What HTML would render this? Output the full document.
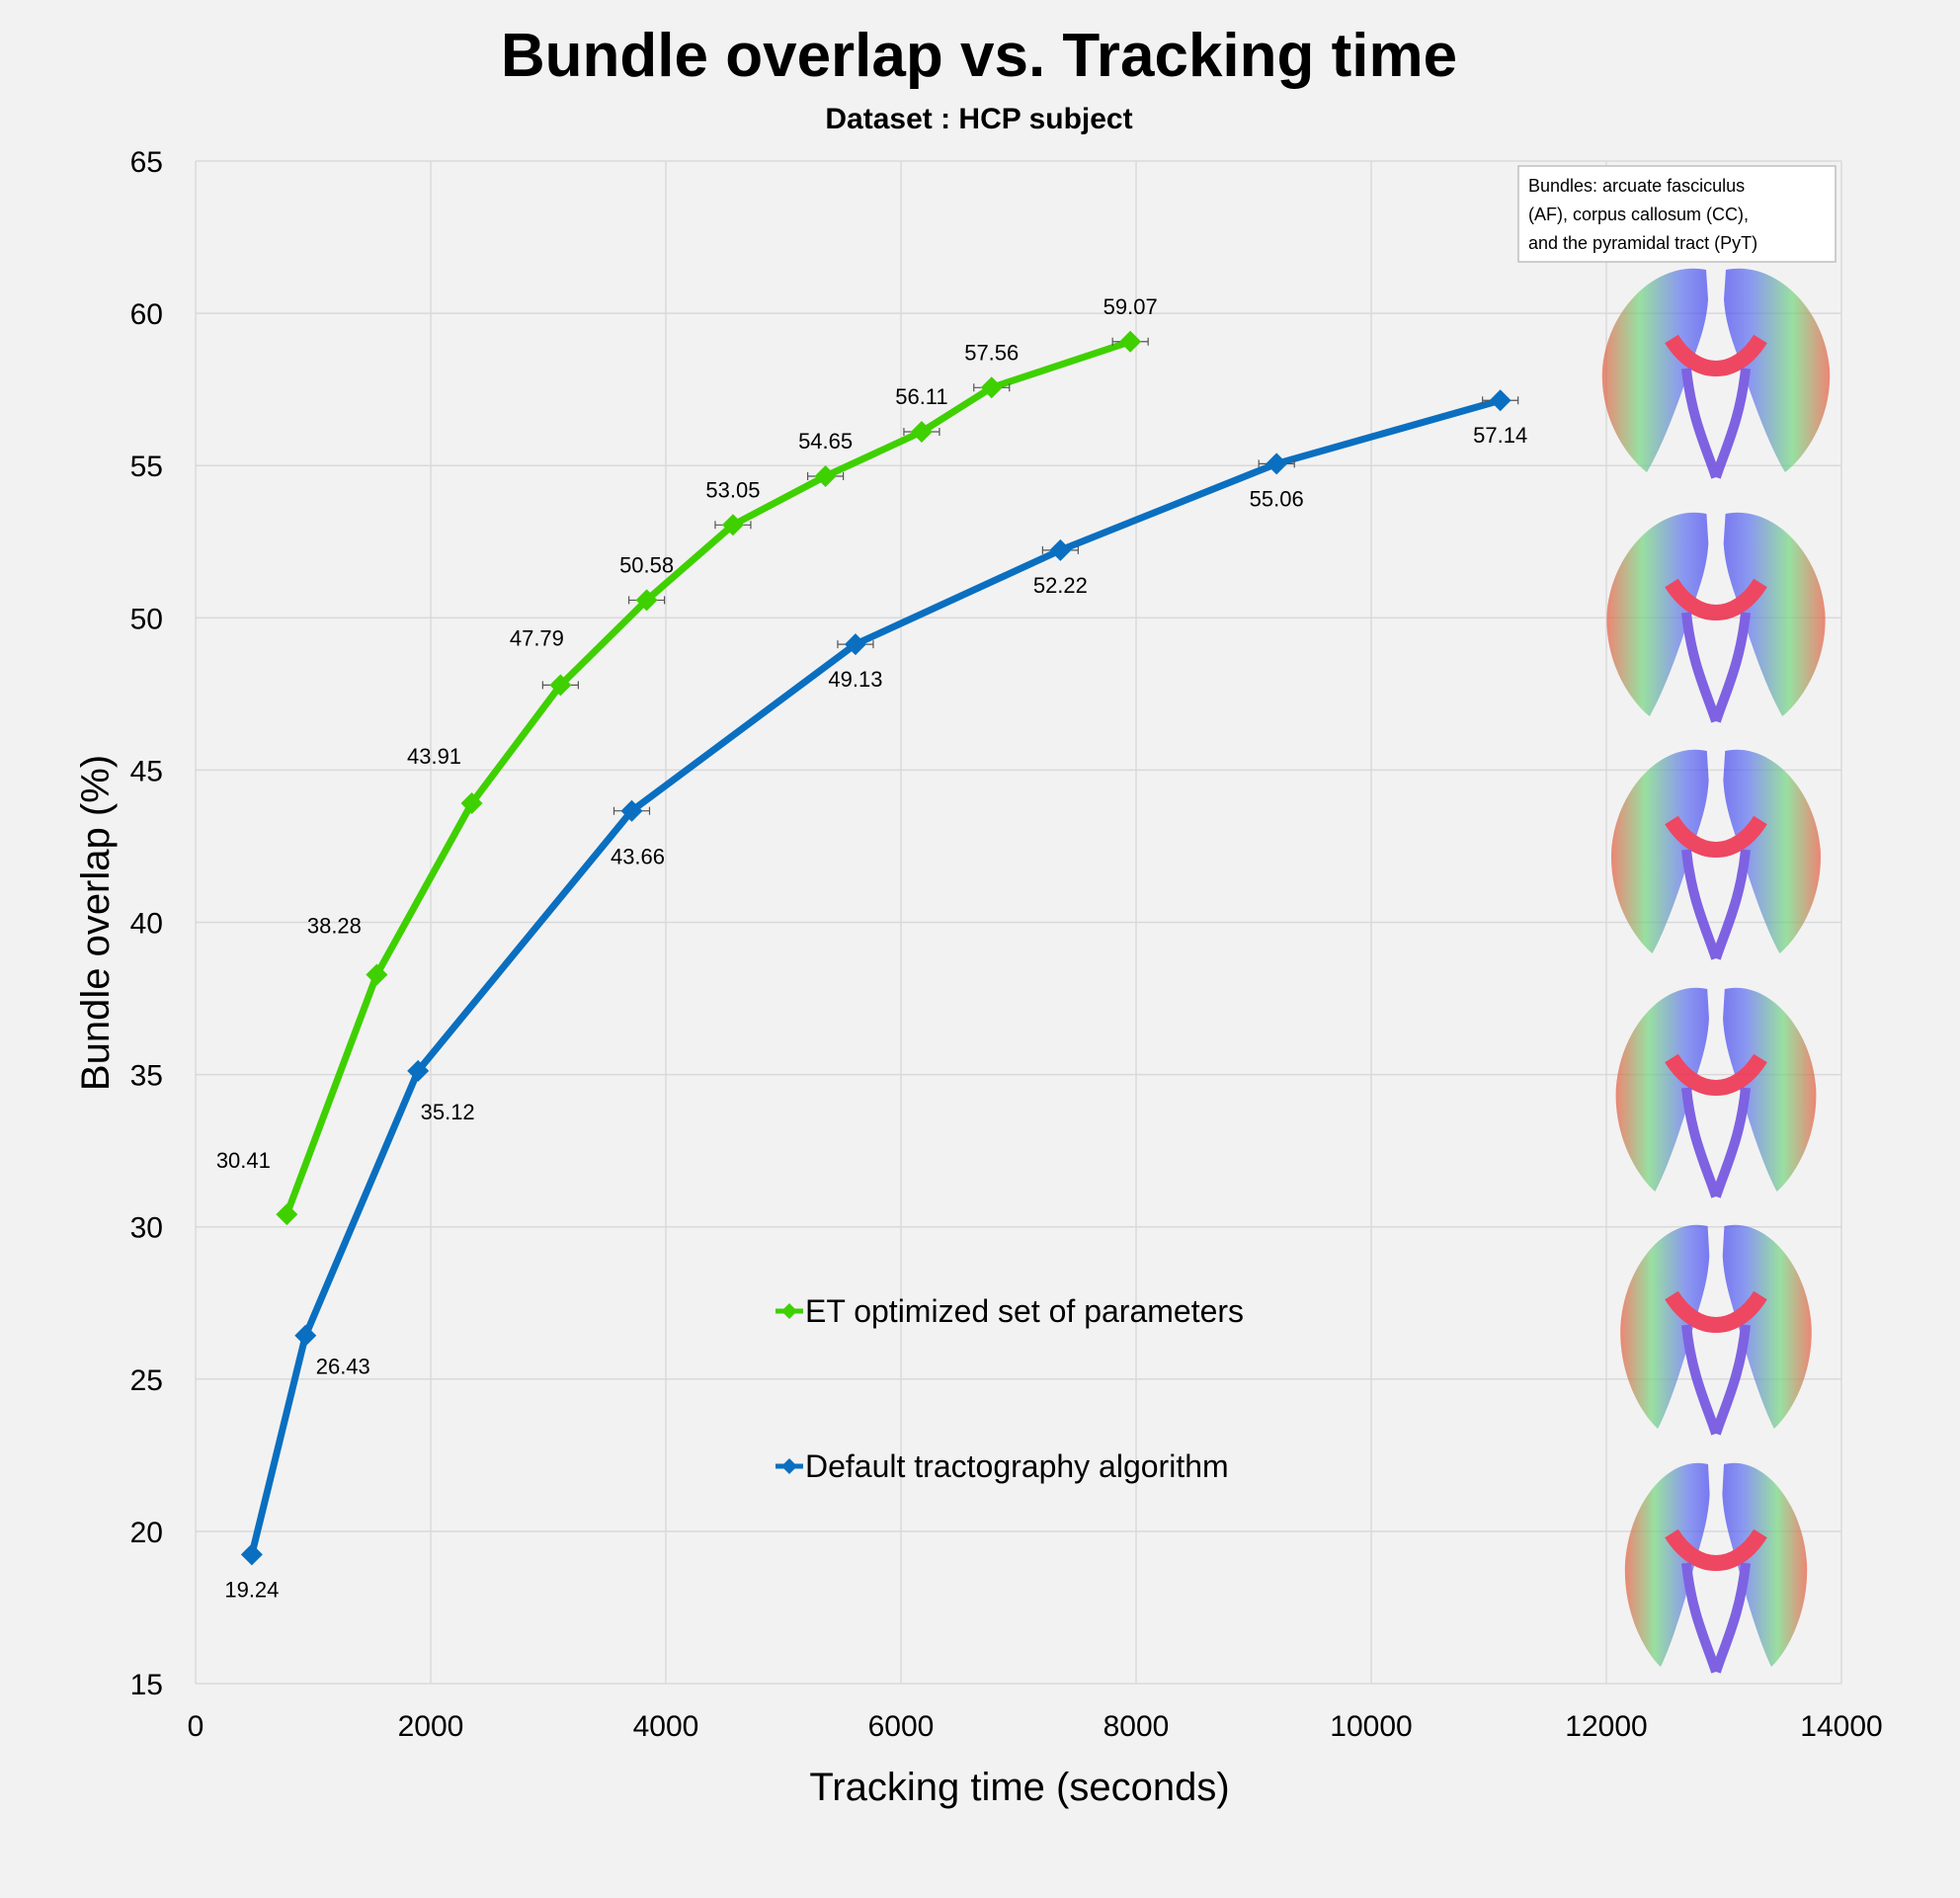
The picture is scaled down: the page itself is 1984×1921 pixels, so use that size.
<!DOCTYPE html>
<html><head><meta charset="utf-8"><style>
html,body{margin:0;padding:0;background:#f2f2f2;}
svg{display:block;font-family:"Liberation Sans",Calibri,sans-serif;}
</style></head><body>
<svg id="chart" width="1984" height="1921" viewBox="0 0 1984 1921">
<defs>
<linearGradient id="lobeL" x1="0" y1="0" x2="1" y2="0">
<stop offset="0" stop-color="#e8553a"/><stop offset="0.35" stop-color="#6fd67a"/><stop offset="0.75" stop-color="#5a6ef0"/><stop offset="1" stop-color="#4040ee"/></linearGradient>
<linearGradient id="lobeR" x1="1" y1="0" x2="0" y2="0">
<stop offset="0" stop-color="#e8553a"/><stop offset="0.35" stop-color="#6fd67a"/><stop offset="0.75" stop-color="#5a6ef0"/><stop offset="1" stop-color="#4040ee"/></linearGradient>
</defs>
<rect x="0" y="0" width="1984" height="1921" fill="#f2f2f2"/>
<text x="991" y="77" text-anchor="middle" font-size="62" font-weight="bold" fill="#000">Bundle overlap vs. Tracking time</text>
<text x="991" y="130" text-anchor="middle" font-size="30" font-weight="bold" fill="#000">Dataset : HCP subject</text>
<g id="grid"></g>
<g id="brains"></g>
<g id="axes"></g>
<g id="series"></g>
<g>
<rect x="1537" y="168" width="321" height="97" fill="#fff" stroke="#bfbfbf" stroke-width="1.5"/>
<text x="1547" y="194" font-size="18" fill="#000">Bundles: arcuate fasciculus</text>
<text x="1547" y="223" font-size="18" fill="#000">(AF), corpus callosum (CC),</text>
<text x="1547" y="252" font-size="18" fill="#000">and the pyramidal tract (PyT)</text>
</g>
<g>
<g>
<line x1="785" y1="1327" x2="813" y2="1327" stroke="#3fd000" stroke-width="5"/>
<path d="M799 1319 L807 1327 L799 1335 L791 1327 Z" fill="#3fd000"/>
<text x="815" y="1338" font-size="32" fill="#000">ET optimized set of parameters</text>
</g>
<g>
<line x1="785" y1="1484" x2="813" y2="1484" stroke="#0a6fc0" stroke-width="5"/>
<path d="M799 1476 L807 1484 L799 1492 L791 1484 Z" fill="#0a6fc0"/>
<text x="815" y="1495" font-size="32" fill="#000">Default tractography algorithm</text>
</g>
</g>
<text x="1032" y="1822" text-anchor="middle" font-size="40" fill="#000">Tracking time (seconds)</text>
<text transform="translate(110,934) rotate(-90)" text-anchor="middle" font-size="40" fill="#000">Bundle overlap (%)</text>
</svg>
<script>
const xTicks = [0,2000,4000,6000,8000,10000,12000,14000];
const yTicks = [15,20,25,30,35,40,45,50,55,60,65];
const etTime = [776,1541,2349,3104,3837,4571,5358,6176,6771,7951];
const etOverlap = [30.41,38.28,43.91,47.79,50.58,53.05,54.65,56.11,57.56,59.07];
const defTime = [478,935,1892,3710,5613,7356,9195,11098];
const defOverlap = [19.24,26.43,35.12,43.66,49.13,52.22,55.06,57.14];

const NS='http://www.w3.org/2000/svg';
const X0=198,X1=1864,Y0=1704,Y1=163;
const sx=v=>X0+(v-0)/(14000-0)*(X1-X0);
const sy=v=>Y0-(v-15)/(65-15)*(Y0-Y1);
function mk(tag,attrs,parent){const e=document.createElementNS(NS,tag);for(const k in attrs)e.setAttribute(k,attrs[k]);parent.appendChild(e);return e;}
const grid=document.getElementById('grid'),axes=document.getElementById('axes'),series=document.getElementById('series'),brains=document.getElementById('brains');

xTicks.forEach(t=>{
  const l=mk('line',{x1:sx(t),x2:sx(t),y1:Y1,y2:Y0,stroke:'#d9d9d9','stroke-width':1.5},grid);
  
  
  const tx=mk('text',{x:sx(t),y:Y0+53,'text-anchor':'middle','font-size':30,fill:'#000'},axes);
  tx.textContent=t;
  
  
});
yTicks.forEach(t=>{
  const l=mk('line',{x1:X0,x2:X1,y1:sy(t),y2:sy(t),stroke:'#d9d9d9','stroke-width':1.5},grid);
  
  
  const tx=mk('text',{x:165,y:sy(t)+11,'text-anchor':'end','font-size':30,fill:'#000'},axes);
  tx.textContent=t;
  
  
});

[373,620,860,1101,1341,1582].forEach((cy,i)=>{
  const g=mk('g',{transform:`translate(1737,${cy})`,opacity:0.85},brains);
  
  
  const w=1-i*0.04;
  mk('path',{d:`M-10 -100 C-60 -110 -110 -60 -115 0 C-118 50 -90 90 -70 105 C-55 80 -40 40 -30 10 C-20 -20 -10 -40 -8 -70 Z`,fill:'url(#lobeL)',opacity:0.8,transform:`scale(${w},1)`},g);
  mk('path',{d:`M10 -100 C60 -110 110 -60 115 0 C118 50 90 90 70 105 C55 80 40 40 30 10 C20 -20 10 -40 8 -70 Z`,fill:'url(#lobeR)',opacity:0.8,transform:`scale(${w},1)`},g);
  mk('path',{d:'M-45 -30 C-20 10 20 10 45 -30',fill:'none',stroke:'#ee2a4a','stroke-width':16},g);
  mk('path',{d:'M-30 0 C-25 50 -10 80 0 110 M30 0 C25 50 10 80 0 110',fill:'none',stroke:'#6a4ae0','stroke-width':10},g);
});

function drawSeries(xs,ys,color,name,labOff){
  const g=mk('g',{},series);
  
  
  const d=xs.map((x,i)=>(i?'L':'M')+sx(x)+' '+sy(ys[i])).join(' ');
  const p=mk('path',{d:d,fill:'none',stroke:color,'stroke-width':7,'stroke-linejoin':'round'},g);
  
  
  xs.forEach((x,i)=>{
    const cx=sx(x),cy=sy(ys[i]);
    if(i>=3){
      const eb=mk('path',{d:`M${cx-18} ${cy} L${cx+18} ${cy} M${cx-18} ${cy-4} L${cx-18} ${cy+4} M${cx+18} ${cy-4} L${cx+18} ${cy+4}`,stroke:'#555','stroke-width':1.2,fill:'none'},g);
      
      
    }
    const m=mk('path',{d:`M${cx} ${cy-11} L${cx+11} ${cy} L${cx} ${cy+11} L${cx-11} ${cy} Z`,fill:color},g);
    
    
    const o=labOff(i);
    const t=mk('text',{x:cx+o[0],y:cy+o[1],'text-anchor':'middle','font-size':22,fill:'#000'},g);
    t.textContent=ys[i].toFixed(2);
    
    
  });
}
drawSeries(etTime,etOverlap,'#3fd000','et-optimized-series',i=>i<4?[[-44,-47],[-43,-42],[-38,-40],[-24,-40]][i]:[0,-28]);
drawSeries(defTime,defOverlap,'#0a6fc0','default-series',i=>i<4?[[0,43],[38,39],[30,49],[6,54]][i]:[0,43]);
</script>
</body></html>
